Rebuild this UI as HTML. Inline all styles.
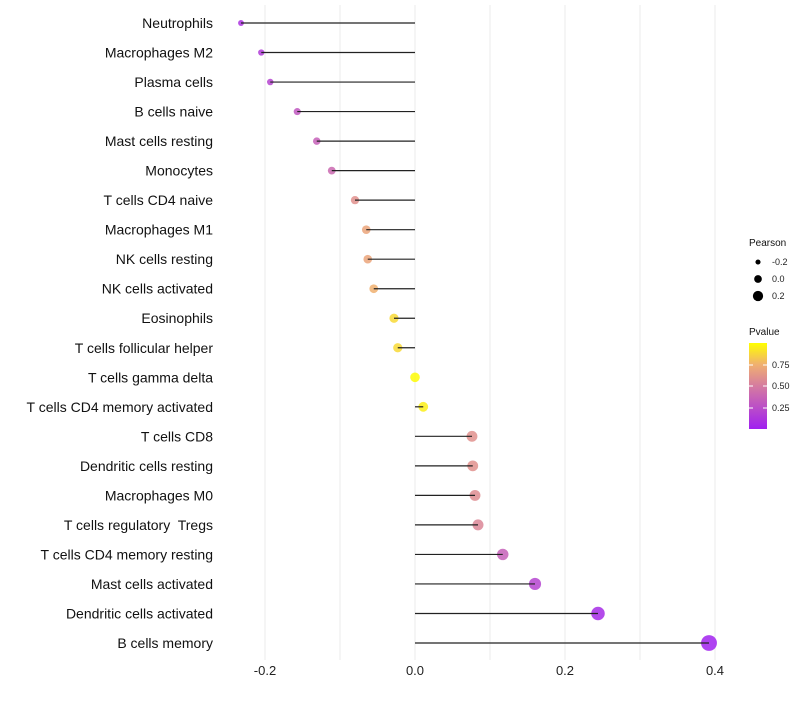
<!DOCTYPE html>
<html><head><meta charset="utf-8"><style>
body{margin:0;background:#fff;font-family:"Liberation Sans",sans-serif}
text{white-space:pre}
</style></head><body>
<svg id="c" width="800" height="700" xmlns="http://www.w3.org/2000/svg"></svg>
<script>
const categories=["Neutrophils","Macrophages M2","Plasma cells","B cells naive","Mast cells resting","Monocytes","T cells CD4 naive","Macrophages M1","NK cells resting","NK cells activated","Eosinophils","T cells follicular helper","T cells gamma delta","T cells CD4 memory activated","T cells CD8","Dendritic cells resting","Macrophages M0","T cells regulatory  Tregs","T cells CD4 memory resting","Mast cells activated","Dendritic cells activated","B cells memory"];
const pearson=[-0.232,-0.205,-0.193,-0.157,-0.131,-0.111,-0.08,-0.065,-0.063,-0.055,-0.028,-0.023,0.0,0.011,0.076,0.077,0.08,0.084,0.117,0.16,0.244,0.392];
const pvalue=[0.1,0.15,0.2,0.3,0.35,0.4,0.6,0.7,0.7,0.75,0.88,0.88,0.99,0.95,0.6,0.6,0.58,0.55,0.35,0.2,0.06,0.01];
const xTicks=[-0.2,0,0.2,0.4];
const xTickLabels=["-0.2","0.0","0.2","0.4"];
const NS="http://www.w3.org/2000/svg";
const svg=document.getElementById('c');
const xs=v=>415+v*750;
const ys=i=>23+i*(620/21);
const rs=v=>4.8+8*v;
function col(p){
 const st=[[0,[160,32,240]],[0.5,[213,123,160]],[0.75,[240,176,112]],[1,[255,255,0]]];
 for(let k=0;k<st.length-1;k++){const a=st[k],b=st[k+1];if(p<=b[0]){const t=(p-a[0])/(b[0]-a[0]);return `rgb(${a[1].map((c,j)=>Math.round(c+t*(b[1][j]-c))).join(',')})`;}}
 return 'rgb(255,255,0)';
}
function mk(t,at,p){const e=document.createElementNS(NS,t);for(const k in at)e.setAttribute(k,at[k]);(p||svg).appendChild(e);return e;}
[-0.1,0.1,0.3].concat(xTicks).forEach(v=>{
 const g=mk('line',{x1:xs(v),x2:xs(v),y1:5,y2:660,stroke:'#ebebeb','stroke-width':1});
 
 
});
xTicks.forEach((v,i)=>{
 const t=mk('text',{x:xs(v),y:675,'text-anchor':'middle','font-size':13,fill:'#222'});
 t.textContent=xTickLabels[i];
 
 
});
categories.forEach((c,i)=>{
 const y=ys(i);
 const t=mk('text',{x:213,y:y+5,'text-anchor':'end','font-size':14,fill:'#111'});
 t.textContent=c;
 
 
 const d=mk('circle',{cx:xs(pearson[i]),cy:y,r:rs(pearson[i]),fill:col(pvalue[i]),'fill-opacity':0.85});
 
 
 const l=mk('line',{x1:xs(0),x2:xs(pearson[i]),y1:y,y2:y,stroke:'#222','stroke-width':1.2});
 
 
});
const lt=mk('text',{x:749,y:246,'font-size':10,fill:'#111'});lt.textContent='Pearson';


[[-0.2,262,'-0.2'],[0,279,'0.0'],[0.2,296,'0.2']].forEach(a=>{
 const c=mk('circle',{cx:758,cy:a[1],r:rs(a[0])*0.8,fill:'#000'});
 
 
 const t=mk('text',{x:772,y:a[1]+3,'font-size':9,fill:'#222'});t.textContent=a[2];
 
 
});
const pt=mk('text',{x:749,y:335,'font-size':10,fill:'#111'});pt.textContent='Pvalue';


const defs=mk('defs',{});
const gr=mk('linearGradient',{id:'g',x1:0,y1:1,x2:0,y2:0},defs);
[[0,'#a020f0'],[0.5,'#d57ba0'],[0.75,'#f0b070'],[1,'#ffff00']].forEach(s=>mk('stop',{offset:s[0],'stop-color':s[1]},gr));
const bar=mk('rect',{x:749,y:343,width:18,height:86,fill:'url(#g)'});


[[0.75,365],[0.5,386],[0.25,408]].forEach(a=>{
 mk('line',{x1:749,x2:753,y1:a[1],y2:a[1],stroke:'#fff'});mk('line',{x1:763,x2:767,y1:a[1],y2:a[1],stroke:'#fff'});
 const t=mk('text',{x:772,y:a[1]+3,'font-size':9,fill:'#222'});t.textContent=a[0].toFixed(2);
 
 
});
</script>
</body></html>
